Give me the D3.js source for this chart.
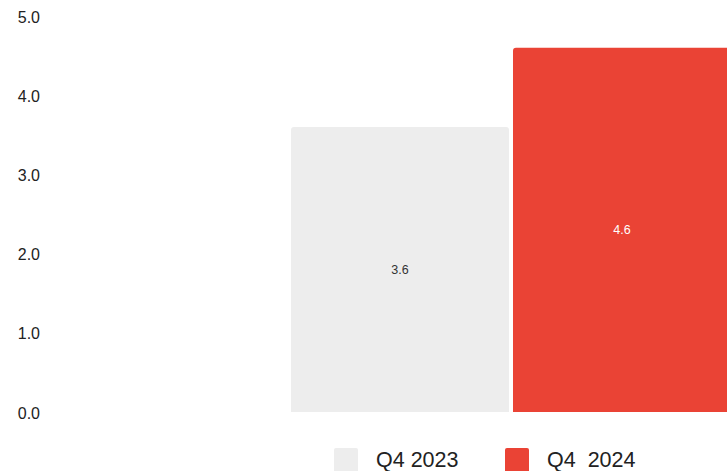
<!DOCTYPE html>
<html>
<head>
<meta charset="utf-8">
<script src="https://cdn.jsdelivr.net/npm/d3@7"></script>
<style>
  html, body { margin: 0; padding: 0; background: #fff; }
  svg { display: block; font-family: "Liberation Sans", Arial, sans-serif; }
</style>
</head>
<body>
<svg id="chart" width="727" height="471"></svg>
<script>
// Quarterly values
const categories = ["Q4 2023", "Q4  2024"];
const values = [3.6, 4.6];
const colors = ["#ededed", "#ea4335"];
const labelColors = ["#333333", "#ffffff"];
const yTicks = [0, 1, 2, 3, 4, 5];

const svg = d3.select("#chart");

const y = d3.scaleLinear().domain([0, 5]).range([412, 16]);
const x = d3.scaleBand().domain(categories).range([291, 731]).paddingInner(0.018);

// Y axis labels
const yAxis = d3.axisLeft(y).tickValues(yTicks).tickFormat(d3.format(".1f")).tickSize(0).tickPadding(0);
const gy = svg.append("g").attr("transform", "translate(40,1)").call(yAxis);
gy.select(".domain").remove();
gy.selectAll("text")
  .attr("font-size", 16)
  .attr("fill", "#222")
  .attr("font-family", "\"Liberation Sans\", Arial, sans-serif");

// Bars with slightly rounded top corners
const r = 3;
function barPath(x0, w, yTop, yBase) {
  return `M${x0},${yBase}V${yTop + r}Q${x0},${yTop} ${x0 + r},${yTop}` +
         `H${x0 + w - r}Q${x0 + w},${yTop} ${x0 + w},${yTop + r}V${yBase}Z`;
}

svg.append("g").selectAll("path")
  .data(values)
  .join("path")
  .attr("d", (d, i) => barPath(x(categories[i]), x.bandwidth(), y(d), y(0)))
  .attr("fill", (d, i) => colors[i]);

// Value labels centred in each bar
svg.append("g").selectAll("text")
  .data(values)
  .join("text")
  .attr("x", (d, i) => x(categories[i]) + x.bandwidth() / 2)
  .attr("y", d => (y(d) + y(0)) / 2)
  .attr("dy", "0.35em")
  .attr("text-anchor", "middle")
  .attr("font-size", 12.5)
  .attr("fill", (d, i) => labelColors[i])
  .text(d => d3.format(".1f")(d));

// Legend
const legendX = [334, 505];
const legend = svg.append("g").selectAll("g")
  .data(categories)
  .join("g")
  .attr("transform", (d, i) => `translate(${legendX[i]},448)`);
legend.append("rect")
  .attr("width", 24).attr("height", 26).attr("rx", 2)
  .attr("fill", (d, i) => colors[i]);
legend.append("text")
  .attr("x", 42).attr("y", 19)
  .attr("font-size", 21.5)
  .attr("fill", "#222")
  .attr("xml:space", "preserve")
  .style("white-space", "pre")
  .text(d => d);
</script>
</body>
</html>
